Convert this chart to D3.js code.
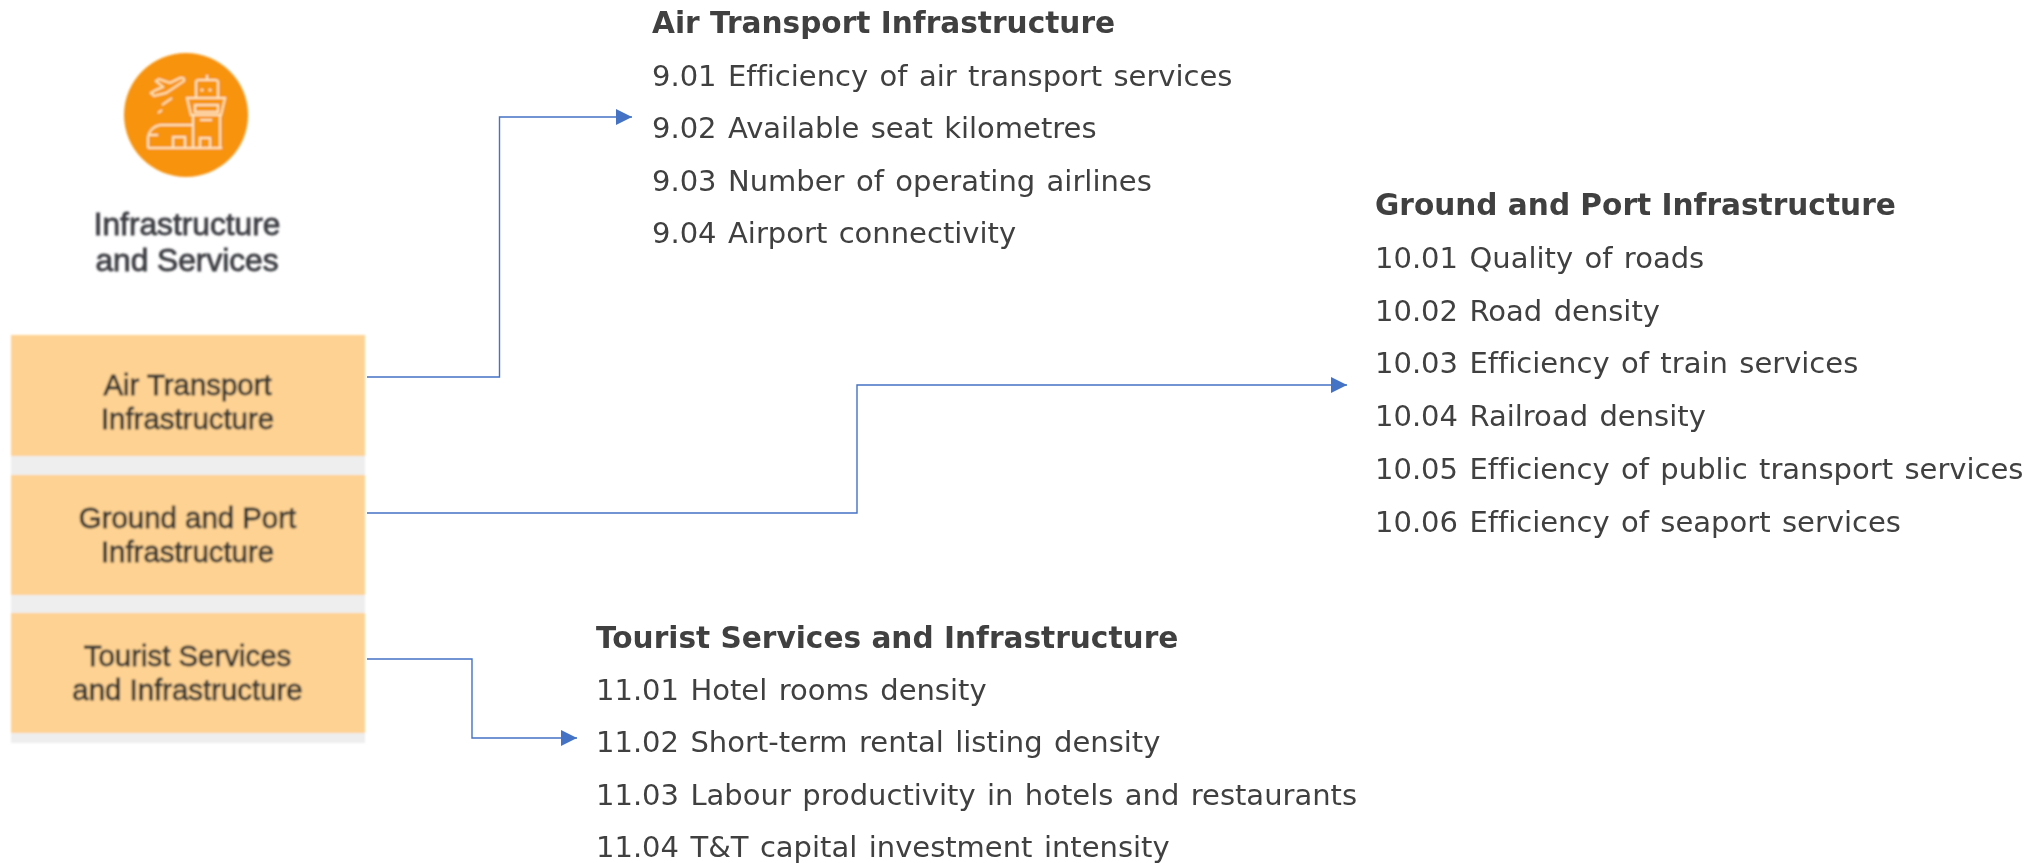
<!DOCTYPE html>
<html>
<head>
<meta charset="utf-8">
<script src="https://cdn.jsdelivr.net/npm/d3@7"></script>
<style>
  html, body { margin: 0; padding: 0; background: #fff; overflow: hidden; }
  svg { display: block; }
  text { font-variant-ligatures: none; }
</style>
</head>
<body>
<div id="chart"></div>
<script>
// pillar name and category labels
const pillarLines = ['Infrastructure', 'and Services'];
const categoryLines = [
    ['Air Transport', 'Infrastructure'],
    ['Ground and Port', 'Infrastructure'],
    ['Tourist Services', 'and Infrastructure']
];

// indicator lists
const airTitle = 'Air Transport Infrastructure';
const airItems = [
    '9.01 Efficiency of air transport services',
    '9.02 Available seat kilometres',
    '9.03 Number of operating airlines',
    '9.04 Airport connectivity'
];
const groundTitle = 'Ground and Port Infrastructure';
const groundItems = [
    '10.01 Quality of roads',
    '10.02 Road density',
    '10.03 Efficiency of train services',
    '10.04 Railroad density',
    '10.05 Efficiency of public transport services',
    '10.06 Efficiency of seaport services'
];
const tourTitle = 'Tourist Services and Infrastructure';
const tourItems = [
    '11.01 Hotel rooms density',
    '11.02 Short-term rental listing density',
    '11.03 Labour productivity in hotels and restaurants',
    '11.04 T&T capital investment intensity'
];

const width = 2032, height = 863;
const textColor = '#404040', lineColor = '#4472c4';

const svg = d3.select('#chart').append('svg').attr('width', width).attr('height', height);

// the left part of the reference is a soft pasted image
const defs = svg.append('defs');
defs.append('filter').attr('id', 'soft').append('feGaussianBlur').attr('stdDeviation', 0.8);
defs.append('marker').attr('id', 'arrow')
    .attr('viewBox', '0 0 16 16').attr('refX', 16).attr('refY', 8)
    .attr('markerUnits', 'userSpaceOnUse').attr('markerWidth', 16).attr('markerHeight', 16)
    .attr('orient', 'auto')
    .append('path').attr('d', 'M0,0L16,8L0,16Z').attr('fill', lineColor);

const left = svg.append('g').attr('filter', 'url(#soft)');

// Category boxes
const boxes = [
    { y: 335, h: 121, grey: 19, base: 395 },
    { y: 475, h: 120, grey: 18, base: 528 },
    { y: 613, h: 120, grey: 10, base: 666 }
];
const box = left.append('g').selectAll('g').data(boxes).join('g');
box.append('rect').attr('x', 11).attr('y', d => d.y).attr('width', 354).attr('height', d => d.h + d.grey).attr('fill', '#eeeeee');
box.append('rect').attr('x', 11).attr('y', d => d.y).attr('width', 354).attr('height', d => d.h).attr('fill', '#fed292');
box.selectAll('text').data((d, i) => categoryLines[i].map((t, j) => ({ t, y: d.base + j * 34 })))
    .join('text')
    .attr('x', 187.5).attr('y', d => d.y)
    .attr('text-anchor', 'middle')
    .attr('font-family', 'Liberation Sans').attr('font-size', 29.4)
    .attr('fill', '#3a3834').attr('stroke', '#3a3834').attr('stroke-width', 0.85)
    .text(d => d.t);

// Pillar icon
const icon = left.append('g').attr('transform', 'translate(186,115)');
icon.append('circle').attr('r', 62).attr('fill', '#f7930f');
const glyph = icon.append('g').attr('fill', 'none').attr('stroke', '#ffe6bb').attr('stroke-width', 2);
[
    'M-35,-22L-32,-19L-20,-22L-2,-34Q-1,-38 -6,-37L-16,-32L-27,-36L-30,-34L-23,-28L-30,-25Z',
    'M-24,-10L-14,-17', 'M-28,-2L-24,-5',
    'M10,-17V-33Q10,-35 13,-35H29Q32,-35 32,-33V-17', 'M21,-35V-40',
    'M1,-17H39L35,0H5Z', 'M9,-10H32V-3H9Z',
    'M7,0V33', 'M34,0V33', 'M14,5H26',
    'M-38,33H36', 'M-38,33V22Q-36,12 -26,10H7', 'M-38,20H-28',
    'M-13,33V22H-1V33', 'M14,33V23H24V33'
].forEach(d => glyph.append('path').attr('d', d));
icon.selectAll('circle.dot').data([16, 24]).join('circle')
    .attr('class', 'dot').attr('cx', d => d).attr('cy', -25).attr('r', 1.6).attr('fill', '#ffe6bb');

left.append('g').selectAll('text').data(pillarLines).join('text')
    .attr('x', 187).attr('y', (d, i) => 235 + i * 36)
    .attr('text-anchor', 'middle')
    .attr('font-family', 'Liberation Sans').attr('font-size', 31.7)
    .attr('fill', '#3c3e43').attr('stroke', '#3c3e43').attr('stroke-width', 0.85)
    .text(d => d);

// Connectors, elbows built with d3.line
const connectors = [
    [[367, 377], [499.5, 377], [499.5, 117], [632, 117]],
    [[367, 513], [857, 513], [857, 385], [1347, 385]],
    [[367, 659], [472, 659], [472, 738], [577, 738]]
];
svg.append('g').selectAll('path').data(connectors).join('path')
    .attr('d', d3.line())
    .attr('fill', 'none').attr('stroke', lineColor).attr('stroke-width', 1.4)
    .attr('marker-end', 'url(#arrow)');

// Indicator lists
const renderList = (title, items, x, baseY, rowStep) => {
    const g = svg.append('g').attr('font-family', 'DejaVu Sans').attr('font-size', 29).attr('fill', textColor);
    g.append('text').attr('x', x).attr('y', baseY).attr('font-weight', 'bold').attr('font-size', 29.6).text(title);
    g.selectAll('text.item').data(items).join('text')
        .attr('class', 'item')
        .attr('x', x).attr('y', (d, i) => baseY + (i + 1) * rowStep)
        .attr('word-spacing', 2.2)
        .text(d => d);
};
renderList(airTitle, airItems, 652, 33, 52.6);
renderList(groundTitle, groundItems, 1375, 215, 52.8);
renderList(tourTitle, tourItems, 596, 648, 52.2);
</script>
</body>
</html>
